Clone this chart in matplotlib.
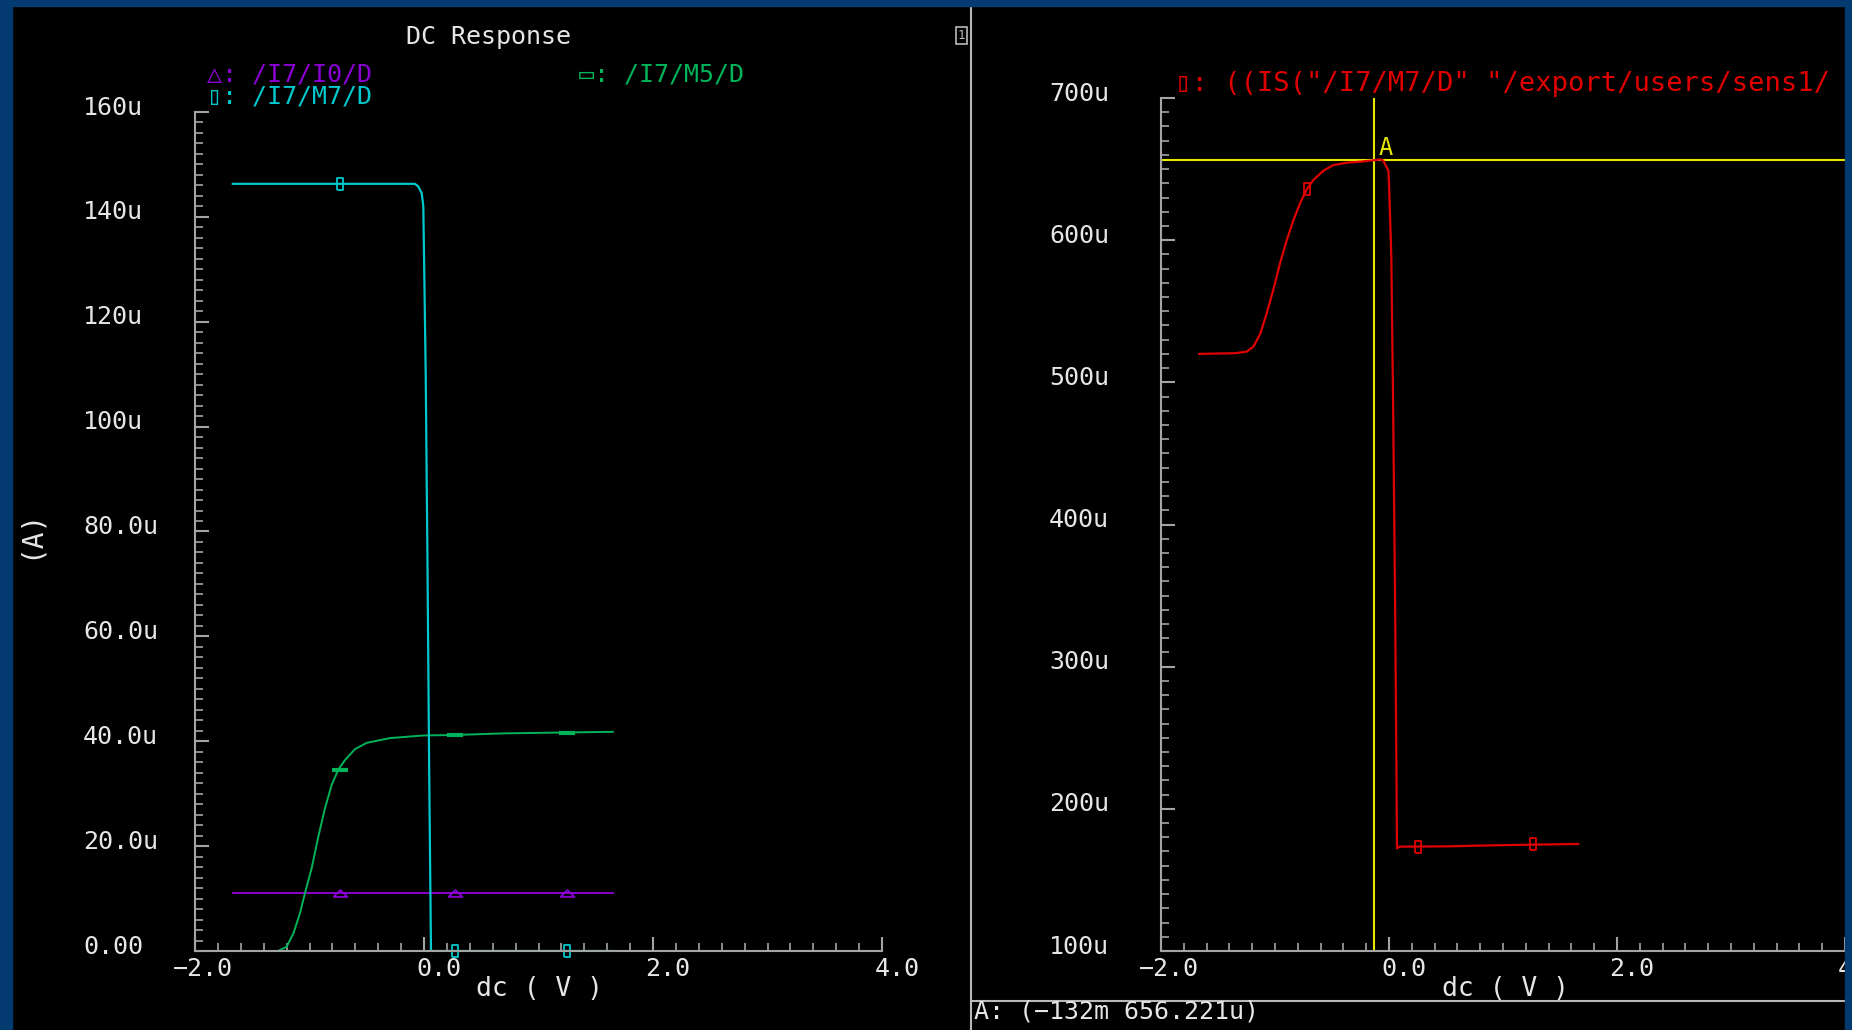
import numpy as np
import matplotlib
matplotlib.use("Agg")
import matplotlib.pyplot as plt
from matplotlib.lines import Line2D
from matplotlib.patches import Rectangle
from matplotlib.ticker import MultipleLocator
from matplotlib.transforms import ScaledTranslation

plt.rcParams['font.family'] = ['DejaVu Sans Mono', 'DejaVu Sans']

# ── 1. Traces ──────────────────────────────────────
# /I7/I0/D
i0_dc = [-1.67, 1.65]
i0_ua = [11.1, 11.1]

# /I7/M7/D
m7_dc = [-1.67, -0.08, -0.05, -0.02, -0.006, 0.015, 0.03, 0.045, 0.061, 1.65]
m7_ua = [146.3, 146.3, 145.8, 144.5, 142.0, 110.0, 75.0, 35.0, 0.0, 0.0]

# /I7/M5/D
m5_dc = [-1.67, -1.275, -1.2, -1.14, -1.083, -1.039, -0.981, -0.923, -0.865,
         -0.806, -0.748, -0.69, -0.603, -0.5, -0.297, -0.006, 0.28, 0.69, 1.65]
m5_ua = [0.0, 0.0, 0.8, 3.4, 7.2, 11.1, 15.8, 21.8, 27.2,
         31.7, 34.6, 36.4, 38.5, 39.7, 40.6, 41.1, 41.2, 41.5, 41.8]

mark_dc = [-0.73, 0.27, 1.25]
i0_mark = [11.1, 11.1, 11.1]
m7_mark = [146.3, 0.0, 0.0]
m5_mark = [34.6, 41.2, 41.6]

# ((IS("/I7/M7/D" "/export/users/sens1/...
sens_dc = [-1.664, -1.35, -1.248, -1.19, -1.13, -1.073, -1.015, -0.956, -0.897,
           -0.839, -0.78, -0.722, -0.664, -0.576, -0.489, -0.371, -0.254,
           -0.132, -0.079, -0.05, -0.006, 0.0, 0.02, 0.038, 0.053, 0.065,
           0.07, 0.09, 0.49, 0.957, 1.66]
sens_ua = [520.0, 520.5, 521.6, 525.0, 534.0, 548.5, 565.0, 583.7, 600.0,
           614.0, 626.0, 635.7, 642.3, 648.8, 652.8, 654.5, 655.2,
           656.2, 656.8, 655.9, 649.0, 640.0, 590.0, 470.0, 350.0, 230.0,
           172.2, 173.4, 173.6, 174.4, 175.3]
sens_mark_dc = [-0.72, 0.25, 1.26]
sens_mark_ua = [635.7, 173.4, 175.3]

cursor_dc = -0.132
cursor_ua = 656.221

x_ticks = [-2, 0, 2, 4]
x_labels = ["\u22122.0", "0.0", "2.0", "4.0"]
left_ticks = [0, 20, 40, 60, 80, 100, 120, 140, 160]
left_labels = ["0.00", "20.0u", "40.0u", "60.0u", "80.0u", "100u", "120u", "140u", "160u"]
right_ticks = [100, 200, 300, 400, 500, 600, 700]
right_labels = ["100u", "200u", "300u", "400u", "500u", "600u", "700u"]

# ── 2. Colours ─────────────────────────────────────
BLUE = "#033a6f"
GREY = "#a4a4a4"
TXT = "#e6e6e6"
PURPLE = "#8a00d2"
CYAN = "#00c8cc"
GREEN = "#00b45a"
RED = "#e00000"
YELLOW = "#e6e600"

W, H = 1852, 1030
fig = plt.figure(figsize=(W / 100, H / 100), dpi=100, facecolor="black")


def fx(x):
    return x / W


def fy(y):
    return 1 - y / H


tall_box = [(-0.35, -0.6), (0.35, -0.6), (0.35, 0.6), (-0.35, 0.6), (-0.35, -0.6)]
flat_tri = [(-1, -0.5), (1, -0.5), (0, 0.5), (-1, -0.5)]


def style_axes(ax, ylo, yhi, yminor):
    ax.set_facecolor("black")
    ax.set_xlim(-2, 4)
    ax.set_ylim(ylo, yhi)
    for s in ["top", "right"]:
        ax.spines[s].set_visible(False)
    for s in ["left", "bottom"]:
        ax.spines[s].set_color(GREY)
        ax.spines[s].set_linewidth(1.5)
    ax.xaxis.set_minor_locator(MultipleLocator(0.2))
    ax.yaxis.set_minor_locator(MultipleLocator(yminor))
    ax.tick_params(which="both", direction="in", colors=GREY, labelcolor=TXT,
                   labelsize=18)
    ax.tick_params(which="major", length=10, width=1.5)
    ax.tick_params(which="minor", length=6, width=1.2)
    ax.tick_params(axis="y", pad=80.6)
    ax.tick_params(axis="x", pad=4)
    # first digit of each x label sits on its tick
    cw = 0.602 * 18
    for t in ax.get_xticklabels():
        t.set_ha("left")
        dx = -(0.5 + t.get_text().startswith("\u2212")) * cw
        t.set_transform(t.get_transform() + ScaledTranslation(dx / 72, 0, fig.dpi_scale_trans))
    for t in ax.get_yticklabels():
        t.set_ha("left")
        t.set_transform(t.get_transform() + ScaledTranslation(0, 5 / 72, fig.dpi_scale_trans))


# ── 3. Left panel: DC Response ─────────────────────
ax1 = fig.add_axes([fx(195), fy(951), 687 / W, 839 / H])
ax1.set_xticks(x_ticks, x_labels)
ax1.set_yticks(left_ticks, left_labels)
style_axes(ax1, 0, 160, 2)

ax1.plot(i0_dc, i0_ua, color=PURPLE, lw=1.4)
ax1.plot(m5_dc, m5_ua, color=GREEN, lw=1.4)
ax1.plot(m7_dc, m7_ua, color=CYAN, lw=1.6)
ax1.plot(mark_dc, i0_mark, ls="none", marker=flat_tri, ms=10, mfc="none",
         mec=PURPLE, mew=1.3, clip_on=False)
ax1.plot(mark_dc, m5_mark, ls="none", marker="_", ms=12, mec=GREEN, mew=3,
         clip_on=False)
ax1.plot(mark_dc, m7_mark, ls="none", marker=tall_box, ms=8, mfc="none",
         mec=CYAN, mew=1.3, clip_on=False)

# ── 4. Right panel: sensitivity ────────────────────
ax2 = fig.add_axes([fx(1161), fy(951), 684 / W, 853 / H])
ax2.set_xticks(x_ticks, x_labels)
ax2.set_yticks(right_ticks, right_labels)
style_axes(ax2, 100, 700, 10)

ax2.axvline(cursor_dc, color=YELLOW, lw=1.5)
ax2.axhline(cursor_ua, color=YELLOW, lw=1.5)
ax2.plot(sens_dc, sens_ua, color=RED, lw=1.6)
ax2.plot(sens_mark_dc, sens_mark_ua, ls="none", marker=tall_box, ms=8,
         mfc="none", mec=RED, mew=1.3)
ax2.text(-0.03, cursor_ua, "A", color=YELLOW, fontsize=17, ha="center",
         va="bottom")

# ── 5. Window decorations and labels ───────────────
fig.text(fx(488), fy(37), "DC Response", color=TXT, fontsize=18,
         ha="center", va="center")
fig.text(fx(207), fy(74), "\u25b3: /I7/I0/D", color=PURPLE, fontsize=18, va="center")
fig.text(fx(207), fy(96), "\u25af: /I7/M7/D", color=CYAN, fontsize=18, va="center")
fig.text(fx(579), fy(74), "\u25ad: /I7/M5/D", color=GREEN, fontsize=18, va="center")
fig.text(fx(1175), fy(84), '\u25af: ((IS("/I7/M7/D" "/export/users/sens1/',
         color=RED, fontsize=19.5, va="center")
fig.text(fx(30), fy(534), "(A)", color=TXT, fontsize=20, rotation=90,
         ha="center", va="center")
fig.text(fx(539), fy(989), "dc ( V )", color=TXT, fontsize=19,
         ha="center", va="center")
fig.text(fx(1505), fy(989), "dc ( V )", color=TXT, fontsize=19,
         ha="center", va="center")
fig.text(fx(974), fy(1012), "A: (\u2212132m 656.221u)", color=TXT, fontsize=18,
         va="center")

# separators
fig.add_artist(Line2D([fx(971), fx(971)], [0, fy(6)], color="#b8b8b8", lw=1.5))
fig.add_artist(Line2D([fx(971), fx(1845)], [fy(1001), fy(1001)], color="#b8b8b8", lw=1.5))
fig.add_artist(Rectangle((fx(956), fy(44)), 11 / W, 17 / H, fill=False,
                         ec="#b8b8b8", lw=1.2))
fig.text(fx(961.5), fy(35.5), "1", color="#b8b8b8", fontsize=9,
         ha="center", va="center")

# blue window frame on top of everything
for x0, y0, w, h in [(0, 0, 12, H), (1845, 0, W - 1845, H), (0, 0, W, 6)]:
    fig.add_artist(Rectangle((fx(x0), fy(y0 + h)), w / W, h / H,
                             color=BLUE, zorder=100))

plt.savefig("out.png", dpi=100, facecolor=fig.get_facecolor())
